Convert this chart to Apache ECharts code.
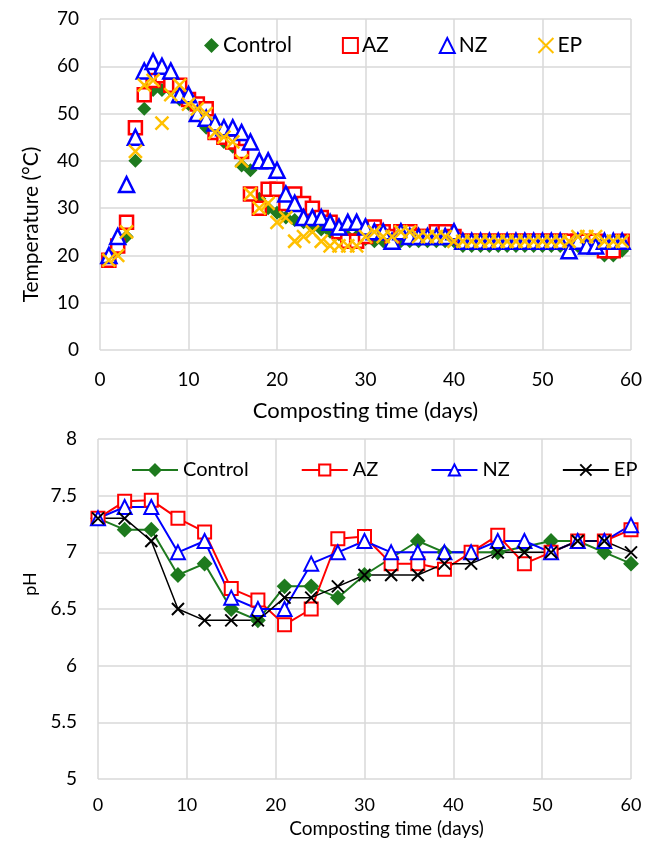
<!DOCTYPE html>
<html>
<head>
<meta charset="utf-8">
<script src="https://cdn.jsdelivr.net/npm/echarts@6/dist/echarts.min.js"></script>
<style>
  html, body { margin: 0; padding: 0; background: #fff; }
  #chart { width: 657px; height: 842px; }
</style>
</head>
<body>
<div id="chart"></div>
<script>
// temperature, one reading per day
var tempDays = [1, 2, 3, 4, 5, 6, 7, 8, 9, 10, 11, 12, 13, 14, 15, 16, 17, 18, 19, 20,
  21, 22, 23, 24, 25, 26, 27, 28, 29, 30, 31, 32, 33, 34, 35, 36, 37, 38, 39, 40,
  41, 42, 43, 44, 45, 46, 47, 48, 49, 50, 51, 52, 53, 54, 55, 56, 57, 58, 59]
var tempControl = [19, 21, 24, 40, 51, 55, 55, 55, 53, 52, 51, 47, 46, 44, 43, 39, 38, 32, 30, 29,
  28, 27.5, 27, 26, 25.5, 25, 24.5, 24, 24, 23.5, 23, 23, 23, 23, 23, 23, 23, 23, 23, 23,
  22, 22, 22, 22, 22, 22, 22, 22, 22, 22, 22, 22, 22, 22, 22, 22, 20, 20, 21]
var tempAZ = [19, 22, 27, 47, 54, 57, 58, 56, 56, 53, 52, 51, 46, 45, 44, 42, 33, 30, 34, 34,
  31, 33, 31, 30, 28, 27, 25, 23, 23, 24, 26, 25, 24, 25, 25, 24, 24, 25, 25, 24,
  23, 23, 23, 23, 23, 23, 23, 23, 23, 23, 23, 23, 23, 23, 23, 23, 21, 21, 23]
var tempNZ = [20, 24, 35, 45, 59, 61, 60, 59, 54, 54, 50, 49, 48, 47, 47, 46, 44, 40, 40, 38,
  33, 31, 28, 28, 28, 27, 26, 27, 27, 26, 25, 25, 23, 25, 24, 24, 24, 24, 24, 25,
  23, 23, 23, 23, 23, 23, 23, 23, 23, 23, 23, 23, 21, 23, 22, 22, 23, 23, 23]
var tempEP = [19, 20, 25, 42, 56, 57, 48, 54, 56, 52, 51, 50, 46, 45, 44, 40, 33, 30, 31, 27,
  28, 23, 24, 25, 23, 22, 22, 22, 22, 24, 25, 24, 24, 25, 25, 24, 24, 24, 24, 23,
  23, 23, 23, 23, 23, 23, 23, 23, 23, 23, 23, 23, 23, 24, 24, 24, 23, 23, 23]

// pH, every three days
var phDays = [0, 3, 6, 9, 12, 15, 18, 21, 24, 27, 30, 33, 36, 39, 42, 45, 48, 51, 54, 57, 60]
var phControl = [7.3, 7.2, 7.2, 6.8, 6.9, 6.5, 6.4, 6.7, 6.7, 6.6, 6.8, 6.95, 7.1, 7.0, 7.0, 7.0, 7.05, 7.1, 7.1, 7.0, 6.9]
var phAZ = [7.3, 7.45, 7.46, 7.3, 7.18, 6.68, 6.58, 6.36, 6.5, 7.12, 7.14, 6.9, 6.9, 6.85, 7.0, 7.15, 6.9, 7.0, 7.1, 7.1, 7.2]
var phNZ = [7.3, 7.4, 7.4, 7.0, 7.1, 6.6, 6.5, 6.5, 6.9, 7.0, 7.1, 7.0, 7.0, 7.0, 7.0, 7.1, 7.1, 7.0, 7.1, 7.1, 7.24]
var phEP = [7.3, 7.3, 7.1, 6.5, 6.4, 6.4, 6.4, 6.6, 6.6, 6.7, 6.8, 6.8, 6.8, 6.9, 6.9, 7.0, 7.0, 7.0, 7.1, 7.1, 7.0]

var seriesNames = ['Control', 'AZ', 'NZ', 'EP']

var FONT = 'Lato'
var GREEN = '#1E7A1E'
var RED = '#FF0000'
var BLUE = '#0000FF'
var YELLOW = '#FFC000'
var GRID = '#D9D9D9'
var CROSS = 'path://M0,0L10,10M10,0L0,10'

function pairs(xs, ys) {
  return xs.map(function (x, i) { return [x, ys[i]] })
}

var chart = echarts.init(document.getElementById('chart'))

function xAxisOf(gridIndex, fontSize, nameSize, margin, nameGap, namePad) {
  return {
    type: 'value', gridIndex: gridIndex, min: 0, max: 60, interval: 10,
    name: 'Composting time (days)', nameLocation: 'middle', nameGap: nameGap,
    nameTextStyle: { fontFamily: FONT, fontSize: nameSize, color: '#000', padding: namePad },
    axisLine: { show: false }, axisTick: { show: false },
    axisLabel: { fontFamily: FONT, fontSize: fontSize, color: '#000', margin: margin },
    splitLine: { show: true, lineStyle: { color: GRID, width: 1.5 } }
  }
}

var markerTop = [
  { symbol: 'diamond', symbolSize: 14, itemStyle: { color: GREEN, opacity: 1 } },
  { symbol: 'rect', symbolSize: 13, itemStyle: { color: '#fff', borderColor: RED, borderWidth: 2.5, opacity: 1 } },
  { symbol: 'triangle', symbolSize: 15, itemStyle: { color: '#fff', borderColor: BLUE, borderWidth: 2.5, opacity: 1 } },
  { symbol: CROSS, symbolSize: 13, itemStyle: { color: YELLOW, borderColor: YELLOW, borderWidth: 2.5, opacity: 1 } }
]
var tempData = [tempControl, tempAZ, tempNZ, tempEP]

var markerBottom = [
  { symbol: 'diamond', symbolSize: 13, color: GREEN, fill: GREEN, width: 2 },
  { symbol: 'rect', symbolSize: 13, color: RED, fill: '#fff', width: 2 },
  { symbol: 'triangle', symbolSize: 14, color: BLUE, fill: '#fff', width: 2 },
  { symbol: CROSS, symbolSize: 12, color: '#000', fill: '#000', width: 1.5 }
]
var phData = [phControl, phAZ, phNZ, phEP]

var series = []
seriesNames.forEach(function (name, i) {
  var m = markerTop[i]
  series.push({
    name: name, type: 'scatter', xAxisIndex: 0, yAxisIndex: 0,
    symbol: m.symbol, symbolSize: m.symbolSize, itemStyle: m.itemStyle,
    data: pairs(tempDays, tempData[i]), animation: false
  })
})
seriesNames.forEach(function (name, i) {
  var m = markerBottom[i]
  series.push({
    name: name + ' ', type: 'line', xAxisIndex: 1, yAxisIndex: 1,
    symbol: m.symbol, symbolSize: m.symbolSize, showAllSymbol: true,
    lineStyle: { color: m.color, width: m.width },
    itemStyle: { color: m.fill, borderColor: m.color, borderWidth: 2 },
    data: pairs(phDays, phData[i]), animation: false
  })
})

chart.setOption({
  backgroundColor: '#fff',
  textStyle: { fontFamily: FONT },
  grid: [
    { left: 100, right: 26, top: 19, height: 331 },
    { left: 98, right: 26, top: 439, height: 340 }
  ],
  legend: [
    {
      data: seriesNames, left: 199, top: 30, itemGap: 50,
      itemWidth: 15, itemHeight: 15,
      textStyle: { fontFamily: FONT, fontSize: 21, color: '#000', padding: [0, 0, 0, -1] }
    },
    {
      data: seriesNames.map(function (n) { return n + ' ' }), left: 126, top: 455, itemGap: 47,
      itemWidth: 46, itemHeight: 14,
      textStyle: { fontFamily: FONT, fontSize: 20, color: '#000' }
    }
  ],
  xAxis: [
    xAxisOf(0, 19, 22, 20, 50, 0),
    xAxisOf(1, 18, 19, 17, 40, [0, 0, 0, 44])
  ],
  yAxis: [
    {
      type: 'value', gridIndex: 0, min: 0, max: 70, interval: 10,
      name: 'Temperature (°C)', nameLocation: 'middle', nameGap: 58,
      nameTextStyle: { fontFamily: FONT, fontSize: 21, color: '#000', padding: [0, 80, 0, 0] },
      axisLine: { show: false }, axisTick: { show: false },
      axisLabel: { fontFamily: FONT, fontSize: 19, color: '#000', margin: 21 },
      splitLine: { lineStyle: { color: GRID, width: 1.5 } }
    },
    {
      type: 'value', gridIndex: 1, min: 5, max: 8, interval: 0.5,
      name: 'pH', nameLocation: 'middle', nameGap: 58,
      nameTextStyle: { fontFamily: FONT, fontSize: 18, color: '#000', padding: [0, 0, 0, 50] },
      axisLine: { show: false }, axisTick: { show: false },
      axisLabel: { fontFamily: FONT, fontSize: 19, color: '#000', margin: 21 },
      splitLine: { lineStyle: { color: GRID, width: 1.5 } }
    }
  ],
  series: series
})
</script>
</body>
</html>
